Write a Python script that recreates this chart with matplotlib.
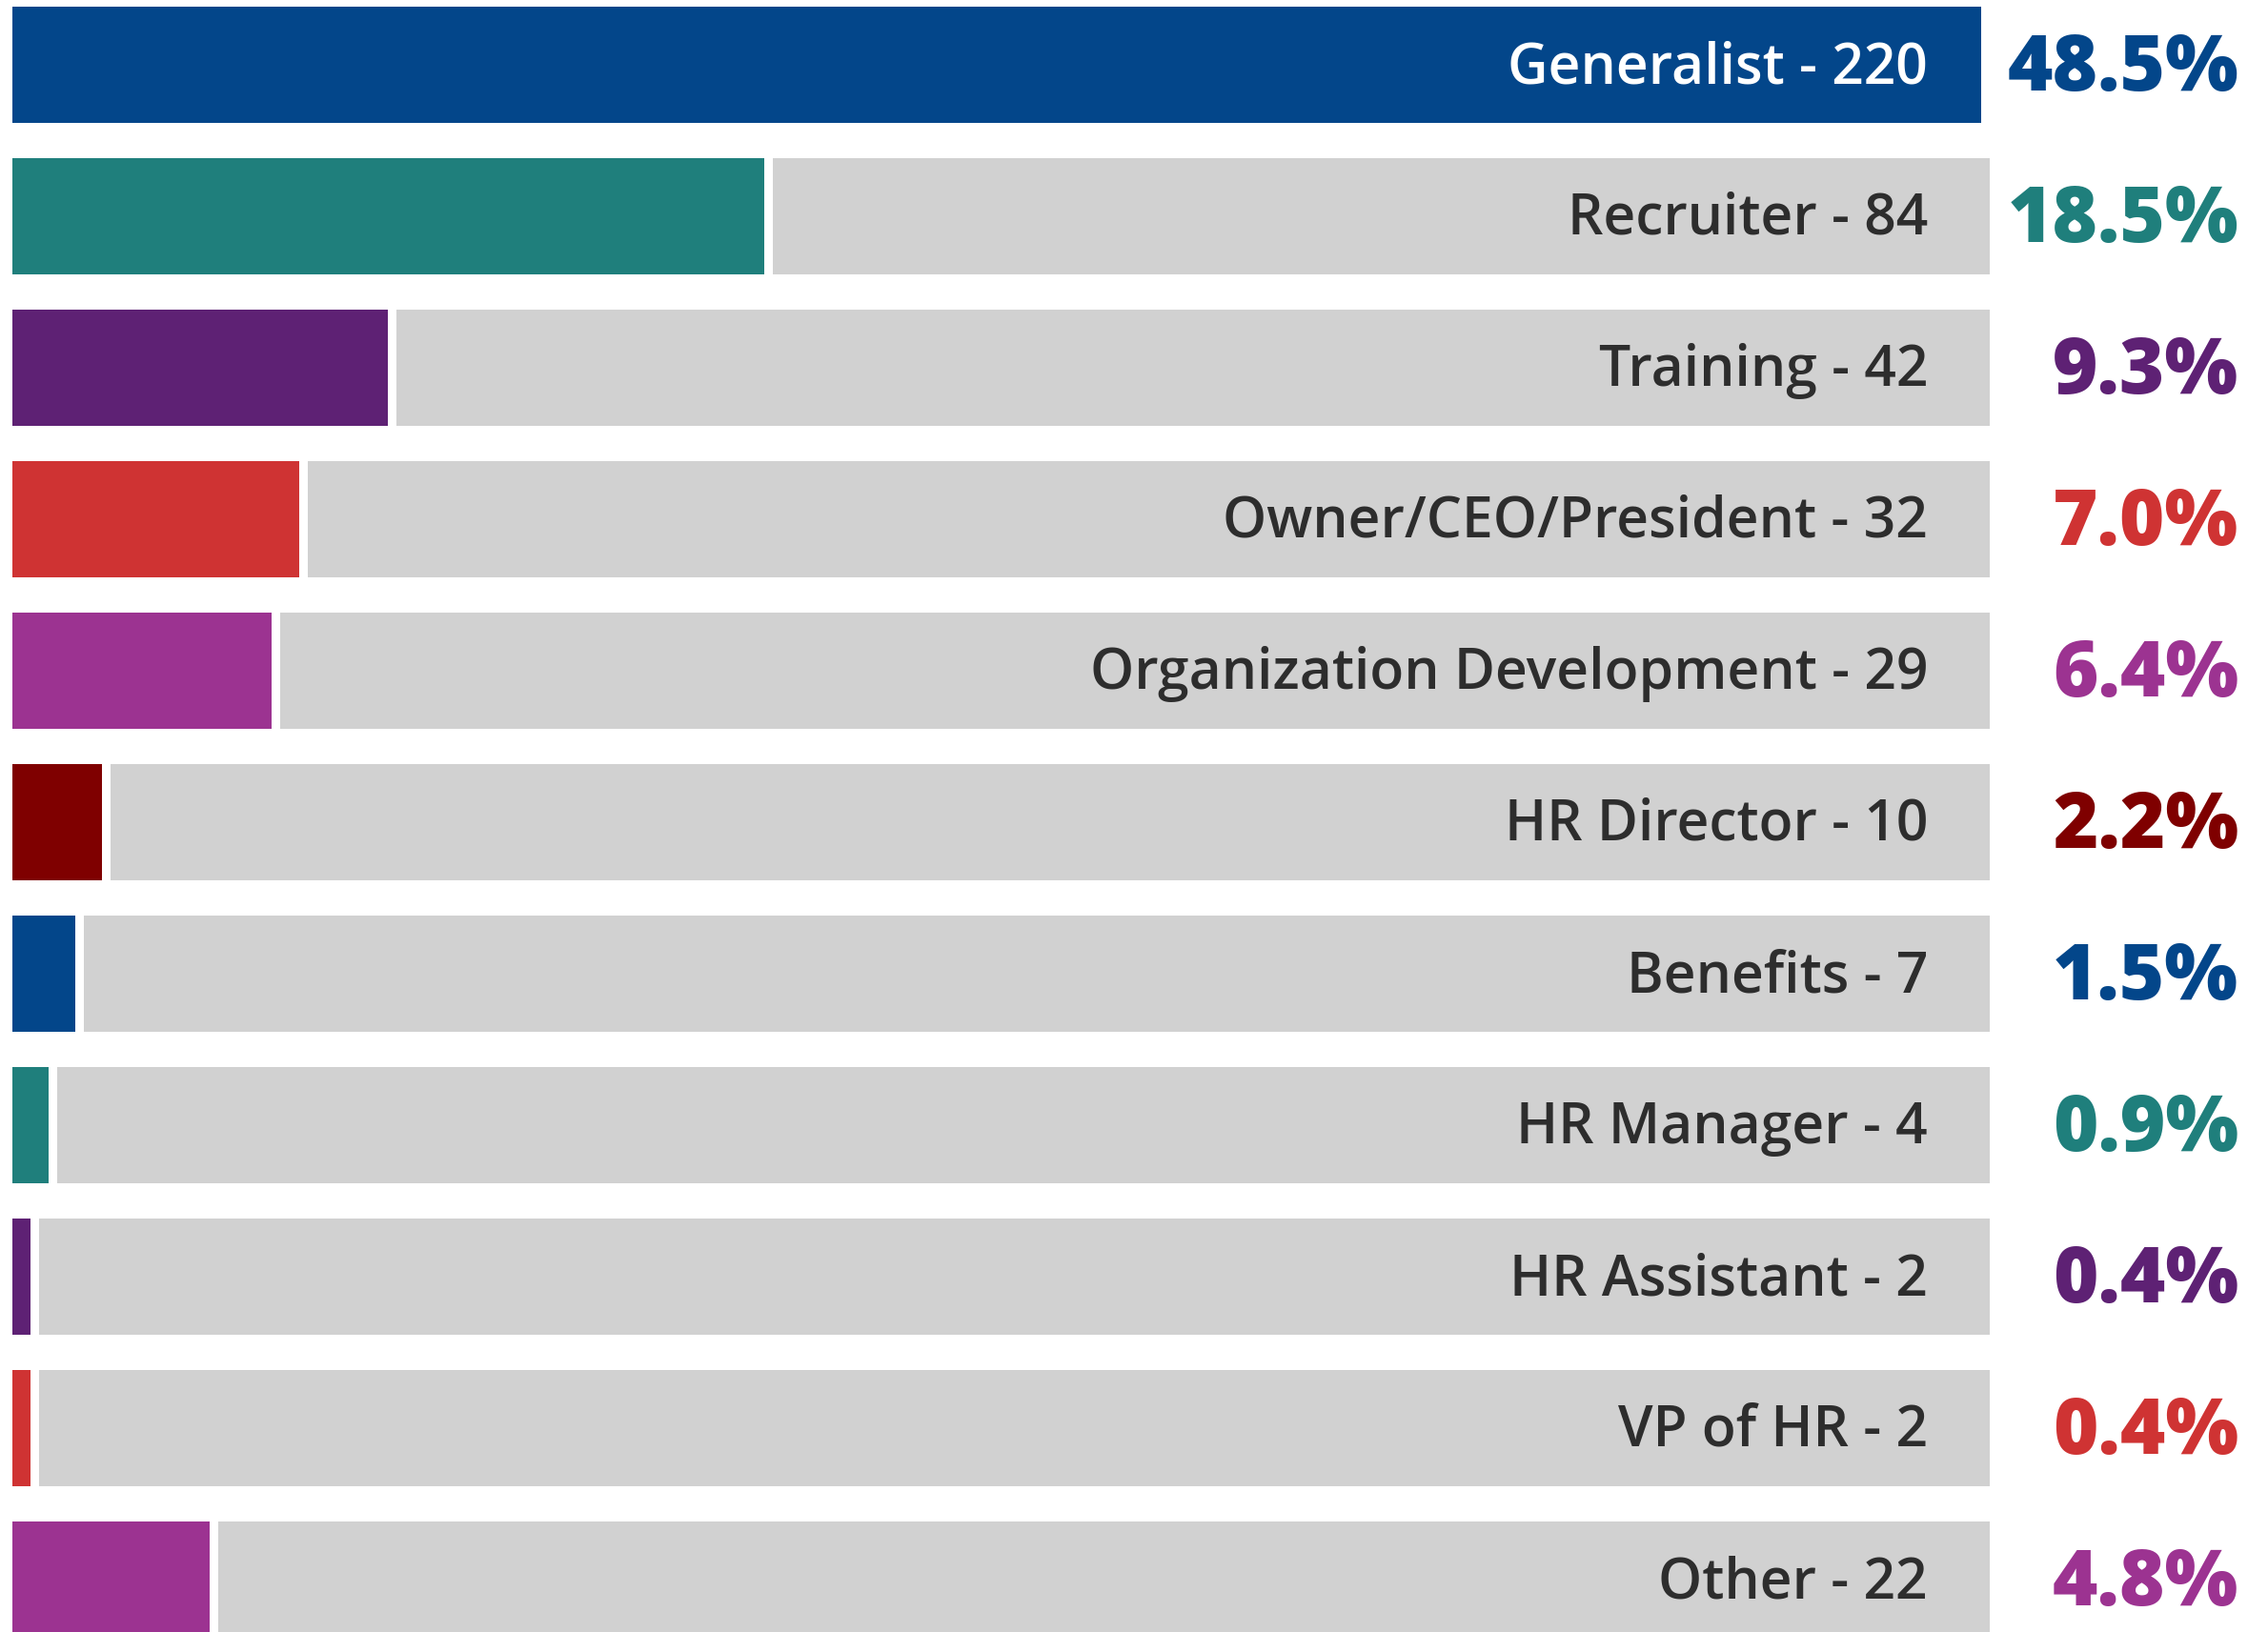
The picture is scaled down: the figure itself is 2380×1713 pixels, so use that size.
import matplotlib
matplotlib.use("Agg")
import matplotlib.pyplot as plt

# data
roles = ["Generalist", "Recruiter", "Training", "Owner/CEO/President",
         "Organization Development", "HR Director", "Benefits", "HR Manager",
         "HR Assistant", "VP of HR", "Other"]
counts = [220, 84, 42, 32, 29, 10, 7, 4, 2, 2, 22]
percents = [48.5, 18.5, 9.3, 7.0, 6.4, 2.2, 1.5, 0.9, 0.4, 0.4, 4.8]

palette = ["#03468A", "#1F7F7C", "#5E2174", "#CF3333", "#9C3391", "#7F0000"]
GRAY = "#D1D1D1"
TEXT = "#2D2D2D"

plt.rcParams["font.family"] = ["Open Sans", "DejaVu Sans"]

W, H, DPI = 2380, 1713, 100
fig = plt.figure(figsize=(W / DPI, H / DPI), dpi=DPI)
ax = fig.add_axes([0, 0, 1, 1])

# pixel geometry -> data units
left_px, px_per_unit = 13, 2066 / max(counts)
pitch_px = 159
ax.set_xlim(-left_px / px_per_unit, (W - left_px) / px_per_unit)
ax.set_ylim((H - 68.3) / pitch_px, -68.3 / pitch_px)
ax.axis("off")

gap = 9 / px_per_unit
bar_h = 122 / pitch_px
vmax = max(counts)

for i, (role, n, pct) in enumerate(zip(roles, counts, percents)):
    col = palette[i % len(palette)]
    ax.barh(i, n, height=bar_h, color=col, linewidth=0)
    rest = vmax - n
    if rest > 0:
        ax.barh(i, rest, left=n + gap, height=bar_h, color=GRAY, linewidth=0)

    lab_col = "white" if n == vmax else TEXT
    ax.text(2023 / W, i + 18.7 / pitch_px, f"{role} - {n}",
            transform=ax.get_yaxis_transform(), ha="right", va="baseline",
            fontsize=42.3, fontweight="semibold", color=lab_col)
    ax.text(2349 / W, i + 27 / pitch_px, f"{pct:.1f}%",
            transform=ax.get_yaxis_transform(), ha="right", va="baseline",
            fontsize=58.3, fontweight="heavy", color=col)

fig.savefig("out.png", dpi=DPI, facecolor="white")
